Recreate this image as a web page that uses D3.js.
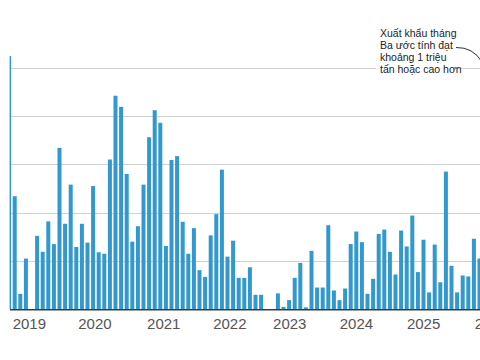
<!DOCTYPE html>
<html><head><meta charset="utf-8">
<script src="https://cdn.jsdelivr.net/npm/d3@7"></script>
<style>html,body{margin:0;padding:0;background:#fff}</style>
</head><body><svg id="c" width="480" height="360"></svg>
<script>
// Monthly exports, thousand tonnes, Dec 2018 .. Dec 2025
const firstMonth = new Date(2018, 11, 1);
const exportsKt = [
  1048,
  468, 64, 210, 0, 304, 238, 364, 270, 668, 354, 516, 258,      // 2019
  354, 276, 510, 236, 230, 620, 884, 838, 560, 280, 344, 516,   // 2020
  712, 824, 772, 262, 618, 634, 362, 230, 336, 162, 134, 306,   // 2021
  394, 578, 218, 284, 130, 130, 174, 60, 60, 0, 0, 66,          // 2022
  10, 38, 130, 192, 8, 242, 90, 90, 348, 78, 38, 86,            // 2023
  270, 322, 278, 64, 126, 312, 330, 238, 144, 326, 260, 388,    // 2024
  154, 288, 70, 268, 112, 570, 180, 70, 140, 136, 292, 210      // 2025
];
const months = exportsKt.map((d, i) => d3.timeMonth.offset(firstMonth, i));
const yearLabels = ["2019", "2020", "2021", "2022", "2023", "2024", "2025", "2026"];
const yearLabelMonth = [1, 12.7, 25, 36.8, 47.5, 59.4, 71.4, 83.5]; // month index where label sits
const gridValues = [200, 400, 600, 800, 1000];
const noteLines = ["Xuất khẩu tháng", "Ba ước tính đạt", "khoảng 1 triệu", "tấn hoặc cao hơn"];

const svg = d3.select("#c");
const x = d3.scaleLinear().domain([0, 84]).range([7.1, 477.5]);
const barW = x(0.715) - x(0);
const y = d3.scaleLinear().domain([0, 1000]).range([309.3, 67.7]);

svg.append("defs").append("clipPath").attr("id", "plot")
  .append("rect").attr("x", 9.6).attr("y", 0).attr("width", 480).attr("height", 360);

// gridlines
svg.append("g").selectAll("line").data(gridValues).join("line")
  .attr("x1", 10).attr("x2", 480)
  .attr("y1", d => Math.round(y(d)) + 0.5).attr("y2", d => Math.round(y(d)) + 0.5)
  .attr("stroke", "#d2d2d2").attr("stroke-width", 1);

// bars
svg.append("g").attr("clip-path", "url(#plot)")
  .selectAll("rect").data(exportsKt).join("rect")
  .attr("x", (d, i) => x(i)).attr("width", barW)
  .attr("y", d => y(d)).attr("height", d => y(0) - y(d))
  .attr("fill", "#3398cd");

// baseline
svg.append("line").attr("x1", 10).attr("x2", 480)
  .attr("y1", y(0) + 0.5).attr("y2", y(0) + 0.5)
  .attr("stroke", "#3c3c3c").attr("stroke-width", 1.5);

// year labels
svg.append("g").selectAll("text").data(yearLabels).join("text")
  .attr("x", (d, i) => x(yearLabelMonth[i]))
  .attr("y", 329)
  .attr("font-family", "'Liberation Sans Narrow','Arial Narrow',sans-serif")
  .attr("font-size", 15)
  .attr("fill", "#555")
  .text(d => d);

// annotation
svg.append("rect").attr("x", 376).attr("y", 26).attr("width", 78).attr("height", 48).attr("fill", "#fff");
svg.append("path").attr("d", "M456,47.5 Q473,47 482,62")
  .attr("fill", "none").attr("stroke", "#333").attr("stroke-width", 1);
svg.append("g").selectAll("text").data(noteLines).join("text")
  .attr("x", 380).attr("y", (d, i) => 36.5 + i * 12)
  .attr("font-family", "'Liberation Sans Narrow','Arial Narrow',sans-serif")
  .attr("font-size", 10.5)
  .attr("fill", "#222")
  .text(d => d);
</script></body></html>
